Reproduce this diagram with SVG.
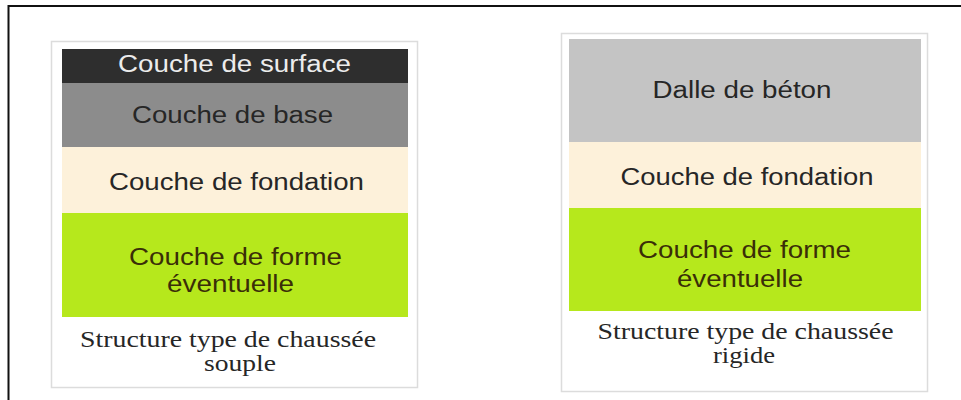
<svg xmlns="http://www.w3.org/2000/svg" width="961" height="400" viewBox="0 0 961 400">
<style>
.lbl{font-family:"Liberation Sans",Arial,sans-serif;font-size:23.5px;fill:#262626;text-anchor:middle}
.frm{fill:#3a2e08}
.cap{font-family:"Liberation Serif","Times New Roman",serif;font-size:24px;fill:#262626;text-anchor:middle}
.frame{fill:#fff;stroke:#dcdcdc;stroke-width:1.5}
</style>
<rect width="961" height="400" fill="#fff"/>
<path d="M8.5,400 V6 H961" fill="none" stroke="#111" stroke-width="2"/>
<g id="souple">
<rect class="frame" x="51.5" y="41.5" width="366" height="346"/>
<g id="s-surface"><rect x="62" y="49" width="346" height="34" fill="#2e2e2e"/><text class="lbl" x="234.5" y="72" textLength="233" lengthAdjust="spacingAndGlyphs" style="fill:#ececec">Couche de surface</text></g>
<g id="s-base"><rect x="62" y="83" width="346" height="64" fill="#8c8c8c"/><text class="lbl" x="232.5" y="123" textLength="201" lengthAdjust="spacingAndGlyphs">Couche de base</text></g>
<g id="s-fondation"><rect x="62" y="147" width="346" height="66" fill="#fdf1da"/><text class="lbl" x="236.5" y="190" textLength="255" lengthAdjust="spacingAndGlyphs">Couche de fondation</text></g>
<g id="s-forme"><rect x="62" y="213" width="346" height="104" fill="#b6e81c"/><text class="lbl frm" x="235.5" y="265" textLength="213" lengthAdjust="spacingAndGlyphs">Couche de forme</text><text class="lbl frm" x="230.5" y="292" textLength="127" lengthAdjust="spacingAndGlyphs">éventuelle</text></g>
<g id="s-caption"><text class="cap" x="228" y="347" textLength="296" lengthAdjust="spacingAndGlyphs">Structure type de chaussée</text><text class="cap" x="240" y="371" textLength="72" lengthAdjust="spacingAndGlyphs">souple</text></g>
</g>
<g id="rigide">
<rect class="frame" x="561.5" y="33.5" width="366" height="358"/>
<g id="r-dalle"><rect x="569" y="39" width="352" height="103" fill="#c4c4c4"/><text class="lbl" x="742" y="98" textLength="179" lengthAdjust="spacingAndGlyphs">Dalle de béton</text></g>
<g id="r-fondation"><rect x="569" y="142" width="352" height="66" fill="#fdf1da"/><text class="lbl" x="747" y="185" textLength="253" lengthAdjust="spacingAndGlyphs">Couche de fondation</text></g>
<g id="r-forme"><rect x="569" y="208" width="352" height="103" fill="#b6e81c"/><text class="lbl frm" x="744.5" y="258" textLength="213" lengthAdjust="spacingAndGlyphs">Couche de forme</text><text class="lbl frm" x="740" y="287" textLength="126" lengthAdjust="spacingAndGlyphs">éventuelle</text></g>
<g id="r-caption"><text class="cap" x="745.5" y="339" textLength="296" lengthAdjust="spacingAndGlyphs">Structure type de chaussée</text><text class="cap" x="744" y="363" textLength="62" lengthAdjust="spacingAndGlyphs">rigide</text></g>
</g>
<g id="connectors"/>
</svg>
